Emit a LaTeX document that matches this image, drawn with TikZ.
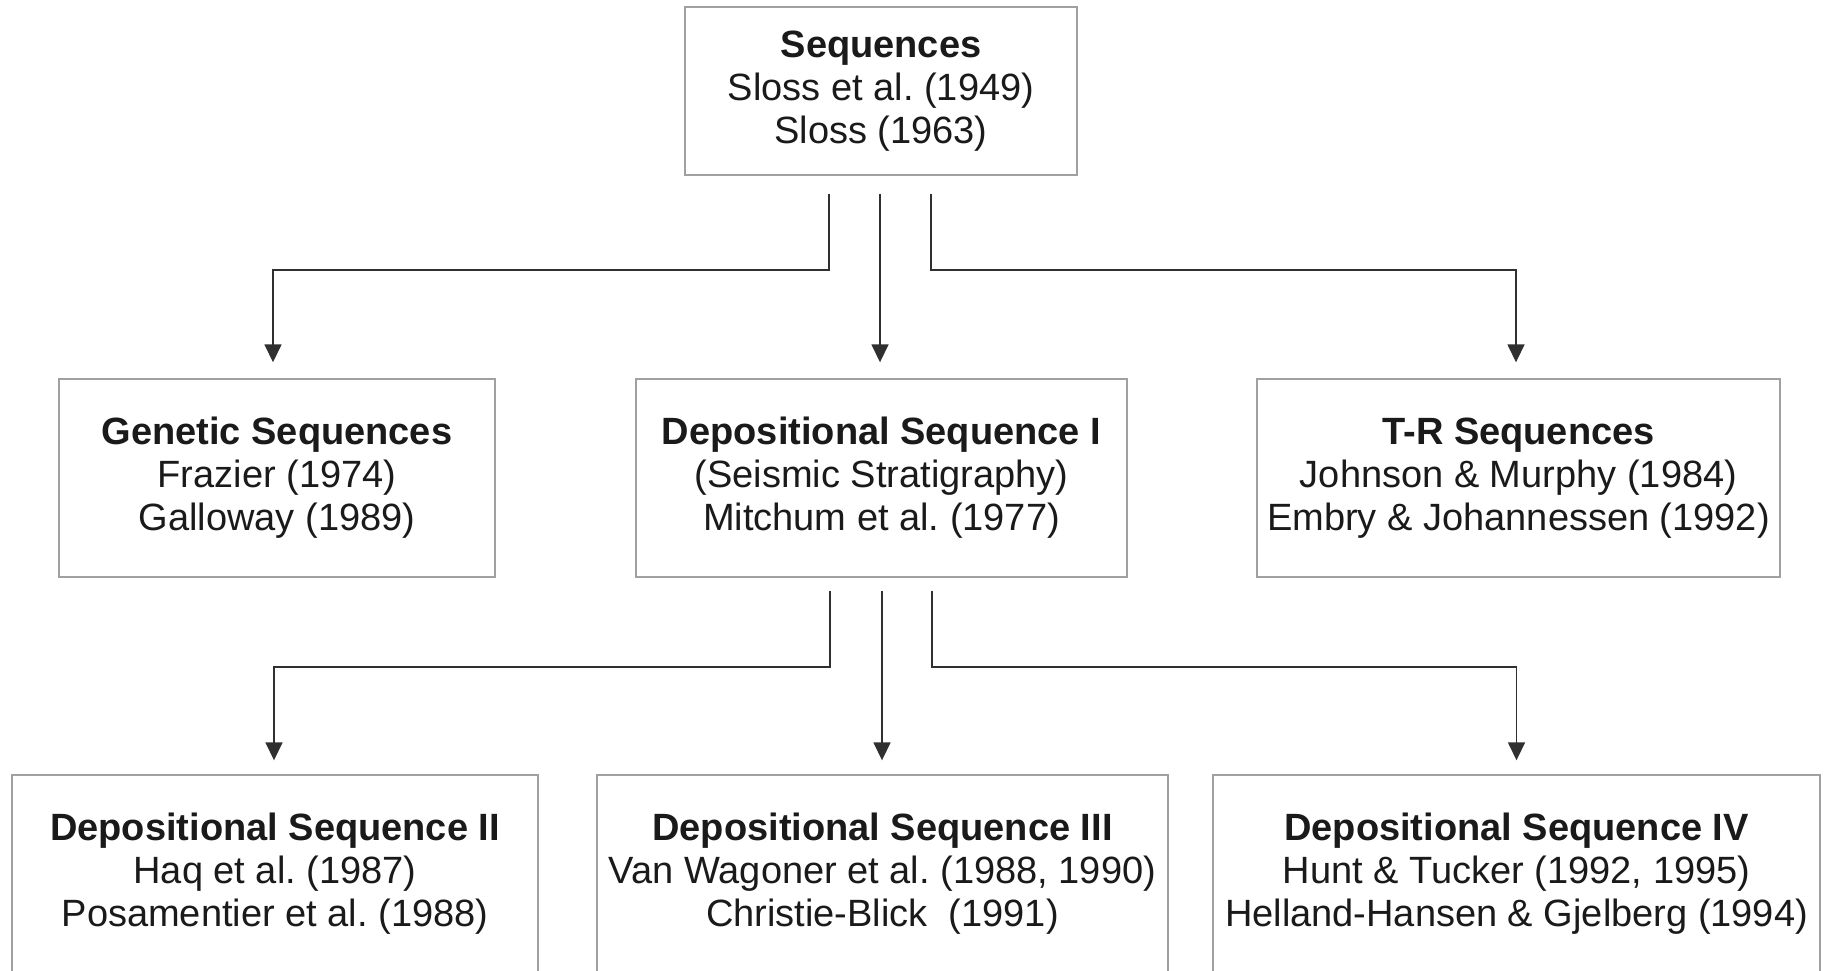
\documentclass[tikz,border=0pt]{standalone}
\usepackage{fontspec}
\setmainfont{Liberation Sans}
\usetikzlibrary{arrows.meta,calc}
\definecolor{boxgray}{HTML}{A0A0A0}
\definecolor{linegray}{HTML}{303030}
\definecolor{txt}{HTML}{1A1A1A}
\frenchspacing
\begin{document}
\begin{tikzpicture}[x=0.5pt,y=-0.5pt,
  box/.style={draw=boxgray, line width=0.7pt, fill=white, align=center,
    inner sep=0pt, text=txt, font=\fontsize{19pt}{21.5pt}\selectfont},
  rowbox/.style={box, minimum height=99pt},
  conn/.style={draw=linegray, line width=0.8pt, -{Triangle[length=9pt,width=8.5pt]}}]
\useasboundingbox (0,0) rectangle (1826,970);
\fill[white] (0,0) rectangle (1826,970);

% top
\node[box, minimum width=196pt, minimum height=84pt] (seq) at (881,91)
  {\textbf{Sequences}\\Sloss et al. (1949)\\Sloss (1963)};

% middle row
\node[rowbox, minimum width=218pt] (gen) at (277,478)
  {\textbf{Genetic Sequences}\\Frazier (1974)\\Galloway (1989)};
\node[rowbox, minimum width=245.5pt] (dep1) at (881.5,478)
  {\textbf{Depositional Sequence I}\\(Seismic Stratigraphy)\\Mitchum et al. (1977)};
\node[rowbox, minimum width=261.5pt] (tr) at (1518.5,478)
  {\textbf{T-R Sequences}\\Johnson \& Murphy (1984)\\Embry \& Johannessen (1992)};

% bottom row
\node[rowbox, minimum width=263pt] (dep2) at (275,874)
  {\textbf{Depositional Sequence II}\\Haq et al. (1987)\\Posamentier et al. (1988)};
\node[rowbox, minimum width=285.5pt] (dep3) at (882.5,874)
  {\textbf{Depositional Sequence III}\\Van Wagoner et al. (1988, 1990)\\Christie-Blick~~(1991)};
\node[rowbox, minimum width=303.5pt] (dep4) at (1516.5,874)
  {\textbf{Depositional Sequence IV}\\Hunt \& Tucker (1992, 1995)\\Helland-Hansen \& Gjelberg (1994)};

% bend points
\coordinate (j1) at (829,270);
\coordinate (j2) at (880,270);
\coordinate (j3) at (931,270);
\coordinate (k1) at (830,667);
\coordinate (k2) at (882,667);
\coordinate (k3) at (932,667);

% connectors level 1
\draw[conn, shorten <=9pt, shorten >=8pt] (seq.south -| j1) -- (j1) -| ([xshift=-2pt]gen.north);
\draw[conn, shorten <=9pt, shorten >=8pt] (seq.south -| j2) -- (j2 |- dep1.north);
\draw[conn, shorten <=9pt, shorten >=8pt] (seq.south -| j3) -- (j3) -| ([xshift=-1.25pt]tr.north);

% connectors level 2
\draw[conn, shorten <=6.5pt, shorten >=7pt] (dep1.south -| k1) -- (k1) -| ([xshift=-0.5pt]dep2.north);
\draw[conn, shorten <=6.5pt, shorten >=7pt] (dep1.south -| k2) -- (k2 |- dep3.north);
\draw[conn, shorten <=6.5pt, shorten >=7pt] (dep1.south -| k3) -- (k3) -| (dep4.north);
\end{tikzpicture}
\end{document}
